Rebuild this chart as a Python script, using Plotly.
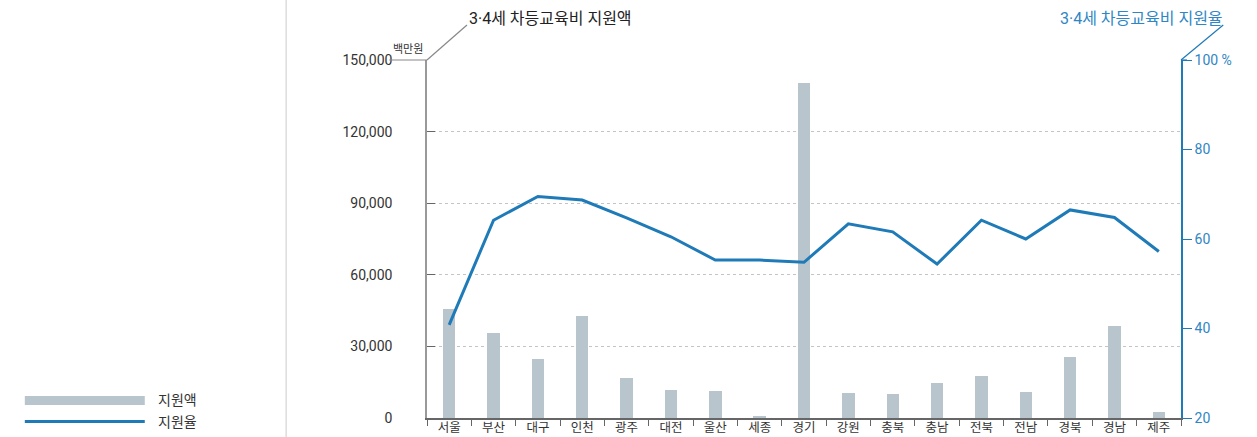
import plotly.graph_objects as go

regions = ["서울", "부산", "대구", "인천", "광주", "대전", "울산", "세종", "경기",
           "강원", "충북", "충남", "전북", "전남", "경북", "경남", "제주"]
amount = [45600, 35600, 24700, 42700, 16800, 11700, 11300, 800, 140300,
          10500, 10000, 14700, 17600, 10900, 25500, 38500, 2500]
rate = [40.8, 64.2, 69.5, 68.7, 64.7, 60.5, 55.3, 55.3, 54.8,
        63.4, 61.6, 54.4, 64.2, 60.0, 66.5, 64.8, 57.2]
left_ticks = [0, 30000, 60000, 90000, 120000, 150000]
left_labels = ["0", "30,000", "60,000", "90,000", "120,000", "150,000"]
right_ticks = [20, 40, 60, 80, 100]
right_labels = ["20", "40", "60", "80", "100 %"]

FONT = "Roboto, 'Noto Sans CJK KR', sans-serif"
BAR_C = "#b9c5cd"
LINE_C = "#1f7ab8"
BLUE_T = "#2f86c4"
AX_C = "#666666"

fig = go.Figure()
fig.add_trace(go.Bar(x=regions, y=amount, marker=dict(color=BAR_C, line=dict(width=0)),
                     width=0.28, name="지원액", yaxis="y", showlegend=False))
fig.add_trace(go.Scatter(x=regions, y=rate, mode="lines", line=dict(color=LINE_C, width=3),
                         name="지원율", yaxis="y2", showlegend=False))

fig.update_layout(
    width=1257, height=437,
    margin=dict(l=427, r=76, t=60, b=19, autoexpand=False),
    paper_bgcolor="white", plot_bgcolor="white",
    font=dict(family=FONT, size=13, color="#333"),
    bargap=0,
    xaxis=dict(type="category", range=[-0.5, 16.5], showline=True, linecolor=AX_C, linewidth=1.5,
               ticks="outside", tickson="boundaries", ticklen=6, tickcolor=AX_C, automargin=False,
               ticklabelstandoff=-3,
               tickfont=dict(size=12.5, color="#333"), showgrid=False, zeroline=False),
    yaxis=dict(range=[0, 150000], tickvals=left_ticks, ticktext=left_labels,
               showline=True, linecolor="#999", linewidth=1.5, automargin=False,
               ticks="inside", ticklen=8, tickcolor=AX_C, ticklabelstandoff=30,
               showgrid=True, gridcolor="#c4c4c4", griddash="dot", gridwidth=1,
               zeroline=False, tickfont=dict(size=14, color="#333")),
    yaxis2=dict(range=[20, 100], tickvals=right_ticks, ticktext=right_labels,
                overlaying="y", side="right", showline=True, linecolor=LINE_C, linewidth=1.5,
                ticks="outside", ticklen=9, tickcolor=LINE_C, showgrid=False, zeroline=False,
                automargin=False, tickfont=dict(size=14, color=BLUE_T)),
)

shapes = [
    dict(type="line", xref="paper", yref="paper", x0=-0.1868, x1=-0.1868, y0=-0.06, y1=1.2,
         line=dict(color="#dddddd", width=1.5)),
    dict(type="line", xref="paper", yref="paper", x0=-0.05, x1=0, y0=1, y1=1,
         line=dict(color="#888", width=1.2)),
    dict(type="line", xref="paper", yref="paper", x0=0, x1=0.053, y0=1, y1=1.0978,
         line=dict(color="#888", width=1.2)),
    dict(type="line", xref="paper", yref="paper", x0=1, x1=1.056, y0=1, y1=1.0978,
         line=dict(color=LINE_C, width=1.2)),
    dict(type="line", xref="paper", yref="paper", x0=1, x1=1.008, y0=1, y1=1,
         line=dict(color=LINE_C, width=1.2)),
    dict(type="rect", xref="paper", yref="paper", x0=-0.5334, x1=-0.3743, y0=0.0363, y1=0.0615,
         fillcolor=BAR_C, line=dict(width=0)),
    dict(type="line", xref="paper", yref="paper", x0=-0.5334, x1=-0.3743, y0=-0.0098, y1=-0.0098,
         line=dict(color=LINE_C, width=3)),
]
fig.update_layout(shapes=shapes)

annotations = [
    dict(text="3·4세 차등교육비 지원액", xref="paper", yref="paper", x=0.0525, y=1.117,
         xanchor="left", yanchor="middle", showarrow=False, font=dict(size=16, color="#222")),
    dict(text="백만원", xref="paper", yref="paper", x=-0.002, y=1.005,
         xanchor="right", yanchor="bottom", showarrow=False, font=dict(size=11, color="#333")),
    dict(text="3·4세 차등교육비 지원율", xref="paper", yref="paper", x=1.059, y=1.117,
         xanchor="right", yanchor="middle", showarrow=False, font=dict(size=16, color=BLUE_T)),
    dict(text="지원액", xref="paper", yref="paper", x=-0.3596, y=0.0489,
         xanchor="left", yanchor="middle", showarrow=False, font=dict(size=14, color="#333")),
    dict(text="지원율", xref="paper", yref="paper", x=-0.3596, y=-0.0098,
         xanchor="left", yanchor="middle", showarrow=False, font=dict(size=14, color="#333")),
]
fig.update_layout(annotations=annotations)

fig.write_html("out.html", config={"displayModeBar": False},
               post_script="document.body.style.margin='0';document.body.style.overflow='hidden';")
